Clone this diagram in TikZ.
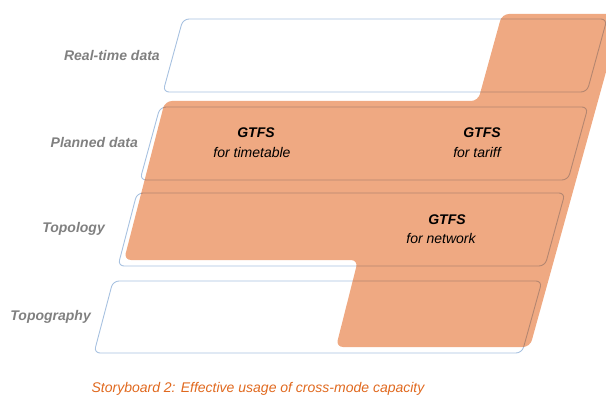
\documentclass[tikz,border=0pt]{standalone}
\usepackage{fontspec}
\setmainfont{Liberation Sans}
\definecolor{boxblue}{HTML}{A7C1E0}
\definecolor{boxbrown}{HTML}{B48670}
\definecolor{orangefill}{HTML}{EFA982}
\definecolor{labelgray}{HTML}{808080}
\definecolor{captionorange}{HTML}{E0691F}
\begin{document}
\begin{tikzpicture}[x=1pt,y=-1pt,
  layerbox/.style={rounded corners=6pt, line width=0.9pt},
  layerlabel/.style={anchor=east, text=labelgray, font=\fontsize{14}{16}\selectfont\bfseries\itshape, inner sep=0pt},
  gtfs/.style={font=\fontsize{14}{16}\selectfont\bfseries\itshape, inner sep=0pt},
  gtfssub/.style={font=\fontsize{14}{16}\selectfont\itshape, inner sep=0pt},
  capt/.style={text=captionorange, font=\fontsize{14}{16}\selectfont\itshape, inner sep=0pt, anchor=base}]
\useasboundingbox (0,0) rectangle (606,396);
\clip (0,0) rectangle (606,396);
\def\boxes{%
  \draw[layerbox] (183,19) -- (607,19) -- (587,92) -- (163,92) -- cycle;
  \draw[layerbox] (160,107) -- (588,107) -- (568,180) -- (140,180) -- cycle;
  \draw[layerbox] (137,193) -- (565,193) -- (545,266) -- (118,266) -- cycle;
  \draw[layerbox] (113,281) -- (542,281) -- (522,353) -- (94,353) -- cycle;
}
\def\orangepath{(502,14) -- (622,14) -- (530,347) -- (336,347) -- (358,260) -- (124,260) -- (165,101) -- (478,101) -- cycle}
% blue boxes
\begin{scope}[draw=boxblue]
\boxes
\end{scope}
% orange region
\fill[orangefill, rounded corners=7pt] \orangepath;
% box lines seen through the orange region
\begin{scope}
\clip[rounded corners=7pt] \orangepath;
\begin{scope}[draw=boxbrown]
\boxes
\end{scope}
\end{scope}
% layer labels
\node[layerlabel] (lrt) at (160,56) {Real-time data};
\node[layerlabel] (lpd) at (138,142) {Planned data};
\node[layerlabel] (ltl) at (105,229) {Topology};
\node[layerlabel] (ltg) at (91,317) {Topography};
% GTFS labels
\node[gtfs] (g1) at (256,133) {GTFS};
\node[gtfssub] (g1s) at (252,152) {for timetable};
\node[gtfs] (g2) at (482,133) {GTFS};
\node[gtfssub] (g2s) at (477,152) {for tariff};
\node[gtfs] (g3) at (447,220) {GTFS};
\node[gtfssub] (g3s) at (441,238) {for network};
% caption
\node[capt] (cap) at (258,392) {Storyboard 2: Effective usage of cross-mode capacity};
\end{tikzpicture}
\end{document}
